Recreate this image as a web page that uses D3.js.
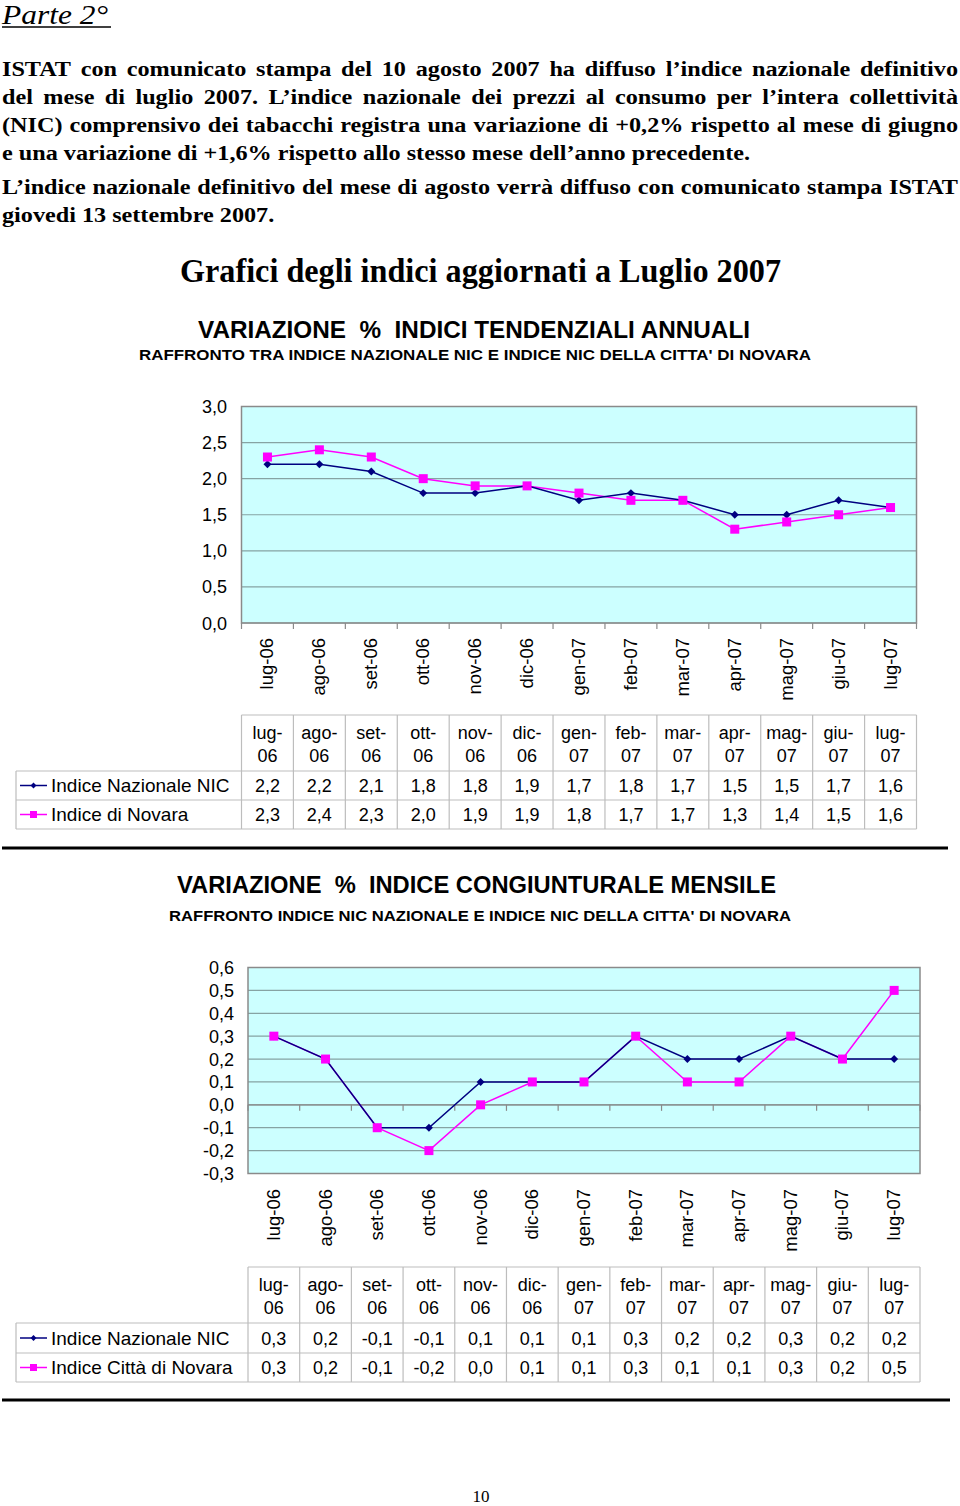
<!DOCTYPE html>
<html><head><meta charset="utf-8">
<script src="https://cdn.jsdelivr.net/npm/d3@7"></script>
<style>html,body{margin:0;padding:0;background:#fff}svg{display:block}</style>
</head><body>
<script>
// ---------- DATA ----------
const months = ["lug-06","ago-06","set-06","ott-06","nov-06","dic-06","gen-07","feb-07","mar-07","apr-07","mag-07","giu-07","lug-07"];
const annualNIC = [2.2,2.2,2.1,1.8,1.8,1.9,1.7,1.8,1.7,1.5,1.5,1.7,1.6];
const annualNovara = [2.3,2.4,2.3,2.0,1.9,1.9,1.8,1.7,1.7,1.3,1.4,1.5,1.6];
const monthlyNIC = [0.3,0.2,-0.1,-0.1,0.1,0.1,0.1,0.3,0.2,0.2,0.3,0.2,0.2];
const monthlyNovara = [0.3,0.2,-0.1,-0.2,0.0,0.1,0.1,0.3,0.1,0.1,0.3,0.2,0.5];
const annualTicks = [0,0.5,1,1.5,2,2.5,3];
const monthlyTicks = [-0.3,-0.2,-0.1,0,0.1,0.2,0.3,0.4,0.5,0.6];
const series1Names = ["Indice Nazionale NIC","Indice di Novara"];
const series2Names = ["Indice Nazionale NIC","Indice Città di Novara"];
const paraLines = [
 {t:"ISTAT con  comunicato stampa del  10 agosto 2007  ha diffuso l’indice nazionale definitivo", j:true},
 {t:"del mese di luglio 2007. L’indice nazionale dei prezzi al consumo per l’intera collettività", j:true},
 {t:"(NIC) comprensivo dei tabacchi registra una variazione di +0,2% rispetto al mese di giugno", j:true},
 {t:"e una variazione di +1,6% rispetto allo stesso mese dell’anno precedente.", j:false},
 {t:"L’indice nazionale definitivo del mese di agosto verrà diffuso con comunicato stampa ISTAT", j:true},
 {t:"giovedi 13 settembre 2007.", j:false}
];

const W=960,H=1506;
const svg=d3.select("body").append("svg").attr("width",W).attr("height",H);
const fmt = v => d3.format(".1f")(v).replace(".",",").replace("−","-");
const NAVY="#000080", MAG="#ff00ff";
const SANS="'Liberation Sans', Arial, sans-serif", SERIF="'Liberation Serif','Times New Roman',serif";

// ---------- header ----------
svg.append("text").attr("x",2).attr("y",24).attr("font-family",SERIF).attr("font-style","italic")
  .attr("font-size",27).attr("textLength",106).attr("lengthAdjust","spacingAndGlyphs").text("Parte 2°");
svg.append("line").attr("x1",2).attr("x2",111).attr("y1",27).attr("y2",27).attr("stroke","#000").attr("stroke-width",1.5);

const baselines=[76,104,132,160,194,222];
const SX=1.1; // horizontal stretch of the paragraph font
paraLines.forEach((L,i)=>{
  const g=svg.append("g").attr("transform",`scale(${SX},1)`);
  const mk=()=>g.append("text").attr("y",baselines[i]).attr("font-family",SERIF).attr("font-weight","bold").attr("font-size",22);
  if(!L.j){
    mk().attr("x",2/SX).attr("xml:space","preserve").text(L.t);
    return;
  }
  const words=L.t.split(/ +/);
  const nodes=words.map(w=>mk().text(w));
  const widths=nodes.map(n=>n.node().getComputedTextLength());
  const total=d3.sum(widths);
  const gap=(956/SX-total)/(words.length-1);
  let x=2/SX;
  nodes.forEach((n,k)=>{n.attr("x",x);x+=widths[k]+gap;});
});

svg.append("text").attr("x",180).attr("y",282).attr("font-family",SERIF)
  .attr("font-weight","bold").attr("font-size",34).attr("textLength",601).attr("lengthAdjust","spacingAndGlyphs")
  .text("Grafici degli indici aggiornati a Luglio 2007");

function titles(t1,x1,w1,y1,t2,x2,w2,y2){
  svg.append("text").attr("x",x1).attr("y",y1).attr("font-family",SANS).attr("font-weight","bold")
   .attr("font-size",23).attr("textLength",w1).attr("lengthAdjust","spacingAndGlyphs").attr("xml:space","preserve").text(t1);
  svg.append("text").attr("x",x2).attr("y",y2).attr("font-family",SANS).attr("font-weight","bold")
   .attr("font-size",15.5).attr("textLength",w2).attr("lengthAdjust","spacingAndGlyphs").text(t2);
}
titles("VARIAZIONE  %  INDICI TENDENZIALI ANNUALI",198,552,338,
       "RAFFRONTO TRA INDICE NAZIONALE NIC E INDICE NIC DELLA CITTA' DI NOVARA",139,672,360);
titles("VARIAZIONE  %  INDICE CONGIUNTURALE MENSILE",177,599,893,
       "RAFFRONTO INDICE NIC NAZIONALE E INDICE NIC DELLA CITTA' DI NOVARA",169,622,921);

// ---------- chart builder ----------
function chart(cfg){
  const {x0,x1,y0,y1,domain,ticks,nic,nov,labelTop,tickY,tickLabelRight,tickFont,tbl,names} = cfg;
  const x=d3.scaleBand().domain(months).range([x0,x1]);
  const y=d3.scaleLinear().domain(domain).range([y1,y0]);
  const g=svg.append("g");
  g.append("rect").attr("x",x0).attr("y",y0).attr("width",x1-x0).attr("height",y1-y0).attr("fill","#ccffff");
  g.selectAll("line.grid").data(ticks).join("line").attr("x1",x0).attr("x2",x1)
   .attr("y1",d=>y(d)).attr("y2",d=>y(d)).attr("stroke","#86a3a3").attr("stroke-width",1.2);
  g.append("rect").attr("x",x0).attr("y",y0).attr("width",x1-x0).attr("height",y1-y0)
   .attr("fill","none").attr("stroke","#8a8a8a").attr("stroke-width",1.5);
  g.selectAll("text.yl").data(ticks).join("text").attr("x",tickLabelRight).attr("y",d=>y(d)+6.5)
   .attr("text-anchor","end").attr("font-family",SANS).attr("font-size",tickFont).text(fmt);
  const ty=y(tickY);
  const bounds=months.map(m=>x(m)).concat([x1]);
  g.selectAll("line.xt").data(bounds).join("line").attr("x1",d=>d).attr("x2",d=>d)
   .attr("y1",ty).attr("y2",ty+6).attr("stroke","#8a8a8a").attr("stroke-width",1.2);
  if(tickY!==domain[0]) g.append("line").attr("x1",x0).attr("x2",x1).attr("y1",ty).attr("y2",ty).attr("stroke","#8a8a8a").attr("stroke-width",1.2);
  g.selectAll("text.xl").data(months).join("text")
   .attr("transform",d=>`translate(${x(d)+x.bandwidth()/2+6},${labelTop}) rotate(-90)`)
   .attr("text-anchor","end").attr("font-family",SANS).attr("font-size",18.5).text(d=>d);
  const cx=d=>x(d)+x.bandwidth()/2;
  const line=d3.line().x((d,i)=>cx(months[i])).y(d=>y(d));
  g.append("path").datum(nov).attr("d",line).attr("fill","none").attr("stroke",MAG).attr("stroke-width",1.5);
  g.append("path").datum(nic).attr("d",line).attr("fill","none").attr("stroke",NAVY).attr("stroke-width",1.5);
  g.selectAll("path.dm").data(nic).join("path")
   .attr("d",d3.symbol(d3.symbolDiamond2,40)).attr("transform",(d,i)=>`translate(${cx(months[i])},${y(d)})`).attr("fill",NAVY);
  g.selectAll("rect.sq").data(nov).join("rect").attr("x",(d,i)=>cx(months[i])-4.5).attr("y",d=>y(d)-4.5)
   .attr("width",9).attr("height",9).attr("fill",MAG);
  // table
  const {top,hb,r1,r2,left,vf} = tbl;
  const tg=svg.append("g");
  const ln=(a,b,c,d)=>tg.append("line").attr("x1",a).attr("y1",b).attr("x2",c).attr("y2",d).attr("stroke","#bdbdbd").attr("stroke-width",1.2);
  ln(x0,top,x1,top); ln(left,hb,x1,hb); ln(left,r1,x1,r1); ln(left,r2,x1,r2);
  ln(left,hb,left,r2);
  bounds.forEach(b=>ln(b,top,b,r2));
  months.forEach(m=>{
    const [a,b]=m.split("-");
    tg.append("text").attr("x",cx(m)).attr("y",top+24).attr("text-anchor","middle").attr("font-family",SANS).attr("font-size",vf).text(a+"-");
    tg.append("text").attr("x",cx(m)).attr("y",top+47).attr("text-anchor","middle").attr("font-family",SANS).attr("font-size",vf).text(b);
  });
  [[nic,hb,r1],[nov,r1,r2]].forEach(([vals,a,b])=>{
    tg.selectAll(null).data(vals).join("text").attr("x",(d,i)=>cx(months[i])).attr("y",(a+b)/2+6.5)
      .attr("text-anchor","middle").attr("font-family",SANS).attr("font-size",vf).text(fmt);
  });
  [[hb,r1,0],[r1,r2,1]].forEach(([a,b,k])=>{
    const yy=(a+b)/2;
    const col=k?MAG:NAVY;
    tg.append("line").attr("x1",left+4).attr("x2",left+31).attr("y1",yy).attr("y2",yy).attr("stroke",col).attr("stroke-width",1.5);
    if(k) tg.append("rect").attr("x",left+14).attr("y",yy-3.5).attr("width",7).attr("height",7).attr("fill",col);
    else tg.append("path").attr("d",d3.symbol(d3.symbolDiamond2,22)).attr("transform",`translate(${left+17.5},${yy})`).attr("fill",col);
    tg.append("text").attr("x",left+35).attr("y",yy+6.5).attr("font-family",SANS).attr("font-size",19).text(names[k]);
  });
}

chart({x0:241.5,x1:916.5,y0:406.5,y1:623,domain:[0,3],ticks:annualTicks,nic:annualNIC,nov:annualNovara,
  labelTop:638,tickY:0,tickLabelRight:227,tickFont:18,names:series1Names,
  tbl:{top:715,hb:771,r1:800,r2:829,left:16,vf:18}});
chart({x0:248,x1:920,y0:967.5,y1:1173.5,domain:[-0.3,0.6],ticks:monthlyTicks,nic:monthlyNIC,nov:monthlyNovara,
  labelTop:1189,tickY:0,tickLabelRight:234,tickFont:18,names:series2Names,
  tbl:{top:1267,hb:1323,r1:1353,r2:1382,left:16,vf:18}});

svg.append("line").attr("x1",2).attr("x2",948).attr("y1",848).attr("y2",848).attr("stroke","#000").attr("stroke-width",3);
svg.append("line").attr("x1",2).attr("x2",950).attr("y1",1400).attr("y2",1400).attr("stroke","#000").attr("stroke-width",3);
svg.append("text").attr("x",481).attr("y",1502).attr("text-anchor","middle").attr("font-family",SERIF).attr("font-size",17).text("10");
</script>
</body></html>
